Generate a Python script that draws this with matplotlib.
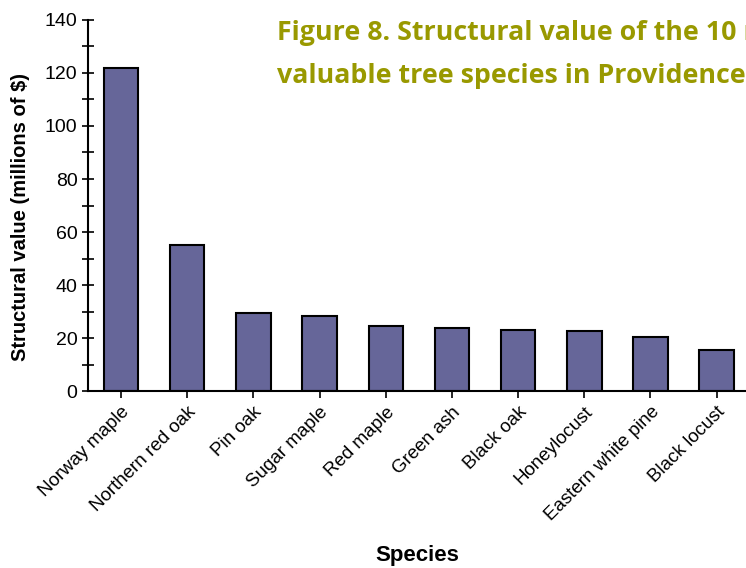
import matplotlib
matplotlib.use("Agg")
import matplotlib.pyplot as plt
from matplotlib.ticker import MultipleLocator

species = ["Norway maple", "Northern red oak", "Pin oak", "Sugar maple", "Red maple",
           "Green ash", "Black oak", "Honeylocust", "Eastern white pine", "Black locust"]
values = [122, 55, 29.5, 28.2, 24.6, 23.7, 23.1, 22.5, 20.2, 15.3]

plt.rcParams['font.family'] = ['Liberation Sans', 'DejaVu Sans']

fig = plt.figure(figsize=(7.46, 5.68), dpi=100)
ax = fig.add_axes([0.118, 0.3116, 0.887, 0.6532])

x = range(len(species))
ax.bar(x, values, width=0.52, color='#666699', edgecolor='black', linewidth=1.5)

ax.set_xlim(-0.5, 9.5)
ax.set_ylim(0, 140)
ax.yaxis.set_major_locator(MultipleLocator(20))
ax.yaxis.set_minor_locator(MultipleLocator(10))
ax.tick_params(axis='y', which='both', direction='inout', length=8, width=1.2, labelsize=14)
ax.tick_params(axis='x', direction='out', length=5, width=1.2, pad=4)

ax.set_xticks(list(x))
ax.set_xticklabels(species, rotation=45, ha='right', rotation_mode='anchor', fontsize=13.5)

for s in ['top', 'right']:
    ax.spines[s].set_visible(False)
for s in ['left', 'bottom']:
    ax.spines[s].set_linewidth(1.5)

ax.set_ylabel("Structural value (millions of $)", fontsize=14.5, fontweight='bold')
ax.yaxis.set_label_coords(-0.087, 0.47)
fig.text(0.56, 0.013, "Species", fontsize=16, fontweight='bold', ha='center')

fig.text(0.371, 0.93, "Figure 8. Structural value of the 10 most", fontsize=19.3,
         fontweight='bold', color='#999900', family='Open Sans', va='baseline')
fig.text(0.371, 0.853, "valuable tree species in Providence.", fontsize=19.3,
         fontweight='bold', color='#999900', family='Open Sans', va='baseline')

fig.savefig("out.png", dpi=100)
